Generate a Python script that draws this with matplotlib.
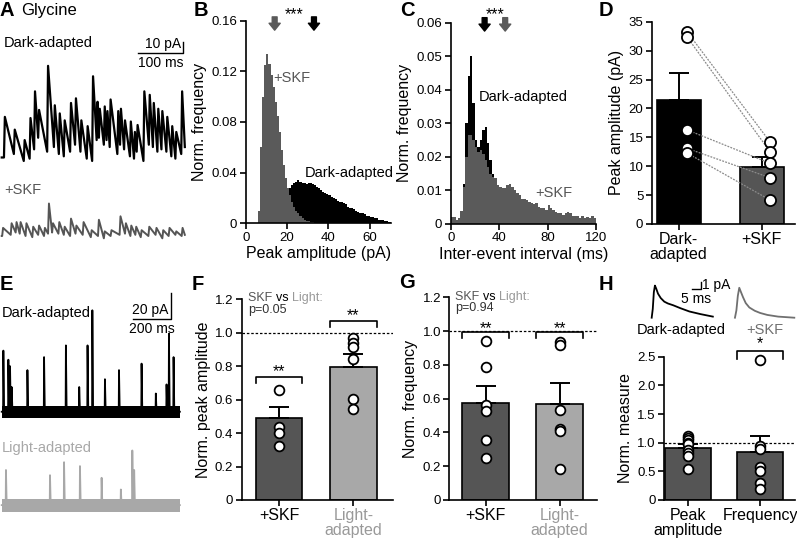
import numpy as np
import matplotlib
matplotlib.use('Agg')
import matplotlib.pyplot as plt

plt.rcParams['font.family'] = ['Liberation Sans', 'DejaVu Sans']

W, H = 797, 541
SKF_GRAY = '#555555'
LIGHT_GRAY = '#a8a8a8'

# ---------------- data ----------------
# A: glycine traces (peak time ms, peak pA, trough before peak pA)
a_dark_t = [7, 29, 51, 64, 74, 83, 103, 118, 129, 140, 154, 165, 177, 191, 203, 213, 218, 229,
            235, 242, 259, 265, 274, 287, 296, 302, 317, 329, 338, 348, 357, 368, 379, 388, 401]
a_dark_peak = [40, 29, 20, 39, 62, 46, 84, 50, 43, 37, 52, 56, 37, 32, 75, 53, 47, 49,
               45, 55, 45, 47, 37, 36, 27, 33, 62, 59, 52, 47, 45, 40, 32, 27, 62]
a_dark_trough = [5, 8, 2, 4, 12, 22, 10, 14, 8, 6, 10, 16, 10, 4, 2, 20, 22, 16,
                 20, 14, 8, 16, 12, 6, 4, 10, 2, 16, 14, 10, 12, 10, 6, 4, 8]
a_dark_end = (407, 14)

a_skf_t = [3, 22, 33, 42, 55, 70, 83, 96, 105, 114, 128, 140, 154, 166, 182, 200, 216, 229,
           244, 264, 276, 288, 299, 311, 328, 344, 359, 373, 388, 402]
a_skf_peak = [9, 13, 14, 14, 13, 10, 11, 9, 30, 13, 14, 10, 17, 11, 14, 7, 16, 6,
              7, 19, 13, 11, 10, 7, 10, 9, 7, 9, 6, 9]
a_skf_trough = [2, 3, 5, 4, 2, 1, 3, 2, 4, 5, 4, 3, 2, 4, 3, 1, 2, 0,
                2, 3, 4, 2, 3, 1, 2, 3, 0, 2, 3, 2]
a_skf_end = (407, 3)

# B: peak amplitude histograms (1 pA bins, 0-70 pA)
b_edges = np.arange(0, 71)
b_skf = [0, 0, 0, 0, 0, 0, 0.01, 0.06, 0.10, 0.125, 0.134, 0.126, 0.117, 0.108, 0.096, 0.085,
         0.072, 0.058, 0.046, 0.036, 0.028, 0.022, 0.017, 0.013, 0.010, 0.008, 0.006, 0.004,
         0.003, 0.002, 0.0015, 0.001, 0.0008, 0.0005, 0.0003] + [0] * 35
b_dark = [0] * 8 + [0.001, 0.002, 0.003, 0.004, 0.006, 0.008, 0.010, 0.012, 0.014, 0.016, 0.018,
                    0.021, 0.025, 0.028, 0.030, 0.032, 0.033, 0.034, 0.033, 0.032, 0.032, 0.031,
                    0.032, 0.032, 0.031, 0.030, 0.029, 0.028, 0.026, 0.025, 0.024, 0.023, 0.022,
                    0.021, 0.020, 0.019, 0.018, 0.017, 0.017, 0.016, 0.015, 0.013, 0.012, 0.012,
                    0.011, 0.010, 0.009, 0.008, 0.008, 0.007, 0.006, 0.006, 0.005, 0.005, 0.004,
                    0.004, 0.003, 0.003, 0.0025, 0.002, 0.0015, 0.0012]
b_medians = [14, 33]

# C: inter-event interval histograms (2 ms bins, 0-120 ms)
c_edges = np.arange(0, 121, 2)
c_skf = [0.0022, 0.0022, 0.0012, 0.0017, 0.004, 0.011, 0.020, 0.0265, 0.0265, 0.025, 0.023,
         0.0216, 0.022, 0.021, 0.019, 0.017, 0.015, 0.014, 0.0136, 0.0116, 0.011, 0.0106,
         0.0106, 0.0116, 0.012, 0.011, 0.010, 0.0091, 0.0086, 0.0076, 0.0076, 0.0072, 0.0067,
         0.0062, 0.006, 0.0062, 0.0052, 0.0047, 0.0047, 0.0042, 0.0057, 0.0047, 0.0042, 0.0037,
         0.0032, 0.0032, 0.0027, 0.0032, 0.0037, 0.0032, 0.0024, 0.0024, 0.0024, 0.0017,
         0.0024, 0.0017, 0.0020, 0.0017, 0.0024, 0.0017]
c_dark = [0.0015, 0.001, 0.001, 0.0015, 0.004, 0.012, 0.030, 0.044, 0.050, 0.036, 0.025, 0.023,
          0.025, 0.028, 0.029, 0.024, 0.019, 0.015, 0.012, 0.010, 0.009, 0.009, 0.008, 0.008,
          0.007, 0.007, 0.006, 0.006, 0.005, 0.005, 0.005, 0.004, 0.004, 0.004, 0.003, 0.003,
          0.003, 0.003, 0.002, 0.002, 0.002, 0.002, 0.002, 0.002, 0.0015, 0.0015, 0.0015,
          0.0015, 0.0012, 0.0012, 0.001, 0.001, 0.001, 0.001, 0.001, 0.0008, 0.0008, 0.0008,
          0.0008, 0.0008]
c_medians = [28, 45]

# D: peak amplitude (pA)
d_labels = ['Dark-\nadapted', '+SKF']
d_means = [21.5, 9.9]
d_sem = [4.7, 1.7]
d_dark_pts = [33.3, 32.4, 16.3, 13.1, 12.3]
d_skf_pts = [14.2, 12.5, 10.5, 8.0, 4.15]

# E: dark vs light adapted traces (spike time ms, amplitude pA)
e_dark_t = [9, 36, 45, 54, 139, 229, 347, 419, 464, 490, 558, 634, 756, 833, 891, 904, 929]
e_dark_a = [47, 40, 35, 19, 32, 42, 51, 19, 51, 78, 25, 32, 37, 14, 21, 60, 42]
e_light_t = [23, 261, 337, 423, 540, 644, 706, 716]
e_light_a = [27, 23, 33, 30, 21, 12, 42, 27]
e_end = 963

# F / G: normalised to dark-adapted
fg_labels = ['+SKF', 'Light-\nadapted']
f_means = [0.49, 0.795]
f_sem = [0.065, 0.075]
f_skf_pts = [0.66, 0.435, 0.40, 0.32]
f_light_pts = [0.967, 0.941, 0.913, 0.841, 0.604, 0.542]
g_means = [0.572, 0.566]
g_sem = [0.105, 0.125]
g_skf_pts = [0.94, 0.79, 0.565, 0.525, 0.355, 0.25]
g_light_pts = [0.935, 0.915, 0.535, 0.42, 0.41, 0.185]

# H: +SKF normalised to dark-adapted
h_labels = ['Peak\namplitude', 'Frequency']
h_means = [0.90, 0.83]
h_sem = [0.07, 0.29]
h_peak_pts = [1.12, 1.09, 1.05, 1.0, 0.97, 0.88, 0.82, 0.76, 0.54]
h_freq_pts = [2.44, 0.95, 0.89, 0.58, 0.51, 0.29, 0.19]
# averaged events (ms, pA)
h_dark_t = [0, 0.6, 1.2, 1.8, 2.5, 3.5, 5, 7, 9, 12, 16, 21, 27, 34]
h_dark_v = [0, 1.2, 3.5, 4.4, 4.0, 3.3, 2.7, 2.2, 1.95, 1.7, 1.3, 0.85, 0.5, 0.15]
h_skf_t = [0, 0.8, 1.6, 2.4, 3.2, 4.5, 6, 8, 11, 14, 18, 24, 33]
h_skf_v = [0, 1.0, 3.0, 4.1, 3.6, 2.8, 2.0, 1.4, 0.95, 0.65, 0.38, 0.15, 0.0]

LABEL_FS = 11.5
TICK_FS = 9.5
CAT_FS = 11.5


# ---------------- helpers ----------------
def px_box(l, t, r, b):
    return [l / W, 1 - b / H, (r - l) / W, (b - t) / H]


def fig_text(x, y, s, **kw):
    fig.text(x / W, 1 - y / H, s, **kw)


def event_path(times, peaks, troughs, end, rise=2.0):
    xs, ys = [0], [troughs[0]]
    for t, p, tr in zip(times, peaks, troughs):
        xs += [t - rise, t]
        ys += [tr, p]
    xs.append(end[0])
    ys.append(end[1])
    return np.array(xs), np.array(ys)


def spike_path(times, amps, end, rise=1.5, decay=4.0):
    xs, ys = [0], [0]
    for t, a in zip(times, amps):
        xs += [t - rise, t, t + decay]
        ys += [0, a, 0]
    xs.append(end)
    ys.append(0)
    return np.array(xs), np.array(ys)


def style(ax):
    for s in ['top', 'right']:
        ax.spines[s].set_visible(False)
    for s in ['left', 'bottom']:
        ax.spines[s].set_linewidth(1.2)
    ax.tick_params(direction='out', length=4, width=1.2, labelsize=TICK_FS, pad=2)


def bar_panel(ax, means, sem, colors, width):
    x = np.arange(len(means))
    ax.bar(x, means, width=width, color=colors, edgecolor='black', linewidth=1.2, zorder=2)
    ax.errorbar(x, means, yerr=[[0] * len(means), sem], fmt='none', ecolor='black',
                elinewidth=1.4, capsize=7, capthick=1.4, zorder=3)
    return x


def points(ax, xpos, vals, ms=7):
    ax.plot([xpos] * len(vals), vals, 'o', ms=ms, mfc='white', mec='black', mew=1.3,
            ls='none', zorder=4, clip_on=False)


def bracket(ax, x0, x1, y, drop, star, star_y):
    ax.plot([x0, x0, x1, x1], [y - drop, y, y, y - drop], color='black', lw=1.2,
            clip_on=False, zorder=5)
    ax.text((x0 + x1) / 2, star_y, star, ha='center', va='center', fontsize=11.5)


def rainbow(ax, x, y, parts, fontsize=9):
    t = ax.text(x, y, parts[0][0], color=parts[0][1], fontsize=fontsize,
                va='center', ha='left', transform=ax.transData)
    for s, c in parts[1:]:
        t = ax.annotate(s, xy=(1, 0), xycoords=t, va='bottom', ha='left',
                        color=c, fontsize=fontsize)


def down_arrow(ax, x, y0, y1, color):
    ax.annotate('', xy=(x, y1), xytext=(x, y0), annotation_clip=False,
                arrowprops=dict(arrowstyle='simple,head_width=0.8,head_length=0.5,tail_width=0.35',
                                color=color, mutation_scale=10, shrinkA=0, shrinkB=0))


fig = plt.figure(figsize=(W / 100, H / 100), dpi=100)

# panel letters
for letter, x, y in [('A', 0, 11), ('B', 194, 10), ('C', 400, 10), ('D', 599, 10),
                     ('E', 0, 284), ('F', 192, 284), ('G', 399, 282), ('H', 599, 285)]:
    fig_text(x, y, letter, fontsize=14.5, fontweight='bold', va='center', ha='left')
fig_text(21, 11, 'Glycine', fontsize=12, va='center', ha='left')

# ---------------- A ----------------
ax = fig.add_axes(px_box(0, 30, 195, 265))
ax.axis('off')
ax.set_xlim(-3.8, 429.6)
ax.set_ylim(-87.7, 114.9)
x, y = event_path(a_dark_t, a_dark_peak, a_dark_trough, a_dark_end)
ax.plot(x, y, color='black', lw=1.6)
x, y = event_path(a_skf_t, a_skf_peak, a_skf_trough, a_skf_end)
ax.plot(x, y - 64.7, color=SKF_GRAY, lw=1.4)
ax.plot([303.5, 403.5, 403.5], [94.8, 94.8, 104.8], color='black', lw=1)
ax.text(399, 96.5, '10 pA', ha='right', va='bottom', fontsize=10)
ax.text(353.5, 92.5, '100 ms', ha='center', va='top', fontsize=10)
fig_text(4, 43, 'Dark-adapted', fontsize=10.5, va='center')
fig_text(4, 190, '+SKF', fontsize=10.5, va='center', color=SKF_GRAY)

# ---------------- B ----------------
ax = fig.add_axes(px_box(245.7, 20.7, 390.5, 223.3))
style(ax)
ax.stairs(b_dark, b_edges, fill=True, color='black')
ax.stairs(b_skf, b_edges, fill=True, color='#5a5a5a')
ax.set_xlim(0, 70)
ax.set_ylim(0, 0.16)
ax.set_xticks([0, 20, 40, 60])
ax.set_yticks([0, 0.04, 0.08, 0.12, 0.16], ['0', '0.04', '0.08', '0.12', '0.16'])
ax.set_xlabel('Peak amplitude (pA)', fontsize=LABEL_FS, labelpad=2)
ax.set_ylabel('Norm. frequency', fontsize=LABEL_FS, labelpad=3)
for m, c in zip(b_medians, ['#5a5a5a', 'black']):
    down_arrow(ax, m, 0.163, 0.1525, c)
ax.text(23.5, 0.1645, '***', ha='center', va='center', fontsize=11.5)
ax.text(13.3, 0.1145, '+SKF', color=SKF_GRAY, fontsize=10.5, va='center')
ax.text(28.5, 0.040, 'Dark-adapted', color='black', fontsize=10.5, va='center')

# ---------------- C ----------------
ax = fig.add_axes(px_box(450.7, 22.7, 596, 224))
style(ax)
ax.stairs(c_dark, c_edges, fill=True, color='black')
ax.stairs(c_skf, c_edges, fill=True, color='#5a5a5a')
ax.set_xlim(0, 120)
ax.set_ylim(0, 0.06)
ax.set_xticks([0, 40, 80, 120])
ax.set_yticks([0, 0.01, 0.02, 0.03, 0.04, 0.05, 0.06],
              ['0', '0.01', '0.02', '0.03', '0.04', '0.05', '0.06'])
ax.set_xlabel('Inter-event interval (ms)', fontsize=LABEL_FS, labelpad=2)
ax.set_ylabel('Norm. frequency', fontsize=LABEL_FS, labelpad=3)
for m, c in zip(c_medians, ['black', '#5a5a5a']):
    down_arrow(ax, m, 0.0615, 0.0575, c)
ax.text(36.6, 0.0625, '***', ha='center', va='center', fontsize=11.5)
ax.text(22.8, 0.038, 'Dark-adapted', color='black', fontsize=10.5, va='center')
ax.text(69.6, 0.0091, '+SKF', color=SKF_GRAY, fontsize=10.5, va='center')

# ---------------- D ----------------
ax = fig.add_axes(px_box(651.7, 21.7, 795, 224))
style(ax)
xd = bar_panel(ax, d_means, d_sem, ['black', SKF_GRAY], 0.53)
for a, b in zip(d_dark_pts, d_skf_pts):
    ax.plot([0.1, 1.1], [a, b], color='#8a8a8a', lw=0.9, ls=(0, (1.5, 1)), zorder=3.5)
points(ax, 0.1, d_dark_pts, ms=8)
points(ax, 1.1, d_skf_pts, ms=8)
ax.set_xlim(-0.323, 1.40)
ax.set_ylim(0, 35)
ax.set_yticks(range(0, 36, 5))
ax.set_xticks(xd, d_labels, fontsize=CAT_FS, linespacing=1.0)
ax.set_ylabel('Peak amplitude (pA)', fontsize=LABEL_FS, labelpad=3)

# ---------------- E ----------------
ax = fig.add_axes(px_box(0, 280, 195, 541))
ax.axis('off')
ax.set_xlim(-9.2, 1044.8)
ax.set_ylim(-99.4, 101.3)
ax.fill_between([0, e_end], -4.5, 4.5, color='black', lw=0)
x, y = spike_path(e_dark_t, e_dark_a, e_end)
ax.plot(x, y, color='black', lw=1.3)
ax.fill_between([0, e_end], -71.8 - 5, -71.8 + 5, color=LIGHT_GRAY, lw=0)
x, y = spike_path(e_light_t, e_light_a, e_end)
ax.plot(x, y - 71.8, color=LIGHT_GRAY, lw=1.3)
ax.plot([711.3, 913.4, 913.4], [71.1, 71.1, 91.1], color='black', lw=1)
ax.text(900, 73, '20 pA', ha='right', va='bottom', fontsize=10)
ax.text(812, 69, '200 ms', ha='center', va='top', fontsize=10)
fig_text(2, 313, 'Dark-adapted', fontsize=10.5, va='center')
fig_text(2, 448, 'Light-adapted', fontsize=10.5, va='center', color=LIGHT_GRAY)

# ---------------- F ----------------
ax = fig.add_axes(px_box(241.7, 299.3, 392.7, 500))
style(ax)
xf = bar_panel(ax, f_means, f_sem, [SKF_GRAY, LIGHT_GRAY], 0.628)
points(ax, 0, f_skf_pts)
points(ax, 1, f_light_pts)
ax.axhline(1.0, color='black', lw=0.9, ls=(0, (2, 1.5)), zorder=1)
bracket(ax, -0.314, 0.314, 0.737, 0.037, '**', 0.77)
bracket(ax, 0.686, 1.314, 1.072, 0.037, '**', 1.10)
ax.set_xlim(-0.502, 1.53)
ax.set_ylim(0, 1.2)
ax.set_yticks([0, 0.2, 0.4, 0.6, 0.8, 1.0, 1.2], ['0', '0.2', '0.4', '0.6', '0.8', '1.0', '1.2'])
ax.set_xticks(xf, fg_labels, fontsize=CAT_FS, linespacing=1.0)
ax.get_xticklabels()[1].set_color('#999999')
ax.set_ylabel('Norm. peak amplitude', fontsize=LABEL_FS, labelpad=3)
rainbow(ax, -0.42, 1.205, [('SKF ', SKF_GRAY), ('vs ', 'black'), ('Light:', '#999999')])
ax.text(-0.42, 1.135, 'p=0.05', fontsize=9, va='center', color='#333333')

# ---------------- G ----------------
ax = fig.add_axes(px_box(449.3, 297.3, 596.7, 500))
style(ax)
xg = bar_panel(ax, g_means, g_sem, [SKF_GRAY, LIGHT_GRAY], 0.64)
points(ax, 0, g_skf_pts)
points(ax, 1, g_light_pts)
ax.axhline(1.0, color='black', lw=0.9, ls=(0, (2, 1.5)), zorder=1)
bracket(ax, -0.32, 0.32, 0.993, 0.036, '**', 1.015)
bracket(ax, 0.68, 1.32, 0.993, 0.036, '**', 1.015)
ax.set_xlim(-0.49, 1.5)
ax.set_ylim(0, 1.2)
ax.set_yticks([0, 0.2, 0.4, 0.6, 0.8, 1.0, 1.2], ['0', '0.2', '0.4', '0.6', '0.8', '1.0', '1.2'])
ax.set_xticks(xg, fg_labels, fontsize=CAT_FS, linespacing=1.0)
ax.get_xticklabels()[1].set_color('#999999')
ax.set_ylabel('Norm. frequency', fontsize=LABEL_FS, labelpad=3)
rainbow(ax, -0.413, 1.2, [('SKF ', SKF_GRAY), ('vs ', 'black'), ('Light:', '#999999')])
ax.text(-0.413, 1.135, 'p=0.94', fontsize=9, va='center', color='#333333')

# ---------------- H ----------------
ax = fig.add_axes(px_box(664, 356.75, 795, 500))
style(ax)
xh = bar_panel(ax, h_means, h_sem, [SKF_GRAY, SKF_GRAY], 0.64)
points(ax, 0, h_peak_pts)
points(ax, 1, h_freq_pts)
ax.axhline(1.0, color='black', lw=0.9, ls=(0, (2, 1.5)), zorder=1)
bracket(ax, 0.68, 1.32, 2.60, 0.14, '*', 2.73)
ax.set_xlim(-0.33, 1.48)
ax.set_ylim(0, 2.5)
ax.set_yticks([0, 0.5, 1.0, 1.5, 2.0, 2.5], ['0', '0.5', '1.0', '1.5', '2.0', '2.5'])
ax.set_xticks(xh, h_labels, fontsize=CAT_FS, linespacing=1.0)
ax.set_ylabel('Norm. measure', fontsize=LABEL_FS, labelpad=3)

# H inset: averaged events
ax = fig.add_axes(px_box(640, 278, 797, 325))
ax.axis('off')
ax.set_xlim(-6.5, 80.8)
ax.set_ylim(-1.0, 5.44)
ax.plot(h_dark_t, h_dark_v, color='black', lw=1.3)
ax.plot(np.array(h_skf_t) + 46.3, h_skf_v, color='#707070', lw=1.3)
ax.plot([22.2, 27.2, 27.2], [3.93, 3.93, 4.93], color='black', lw=1)
ax.text(27.8, 4.45, '1 pA', fontsize=10, va='center', ha='left')
ax.text(24.6, 2.56, '5 ms', fontsize=10, va='center', ha='center')
fig_text(681.7, 330, 'Dark-adapted', fontsize=10.5, ha='center', va='center')
fig_text(765, 330, '+SKF', fontsize=10.5, ha='center', va='center', color='#707070')

fig.savefig('out.png', dpi=100)
